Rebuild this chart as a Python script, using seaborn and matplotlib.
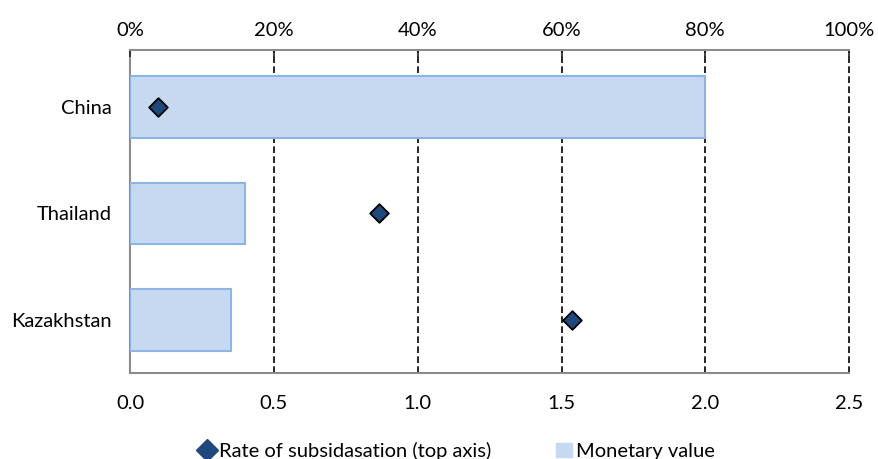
import pandas as pd
import matplotlib
matplotlib.use("Agg")
import matplotlib.pyplot as plt
import seaborn as sns
from matplotlib.lines import Line2D
from matplotlib.patches import Patch

# data
countries = ["China", "Thailand", "Kazakhstan"]
monetary_value = [2.0, 0.40, 0.35]
subsidy_rate = [3.9, 34.6, 61.5]   # percent, top axis
bottom_ticks = [0.0, 0.5, 1.0, 1.5, 2.0, 2.5]
top_ticks = [0, 20, 40, 60, 80, 100]

df = pd.DataFrame({"country": countries, "value": monetary_value, "rate": subsidy_rate})

sns.set_style("white")
plt.rcParams["font.family"] = ["Lato", "DejaVu Sans"]
plt.rcParams["text.color"] = "black"
plt.rcParams["xtick.color"] = "black"
plt.rcParams["ytick.color"] = "black"

fs = 14.5

fig = plt.figure(figsize=(8.79, 4.59), dpi=100)
ax = fig.add_axes([0.148, 0.187, 0.818, 0.704])

bar_fill = "#c6d9f1"
bar_edge = "#8db4e2"
sns.barplot(data=df, x="value", y="country", orient="h", color=bar_fill,
            saturation=1, edgecolor=bar_edge, linewidth=1.5, width=0.58,
            ax=ax, zorder=3)

ylim = (2.5, -0.535)
ax.set_xlim(0, 2.5)
ax.set_ylim(*ylim)
ax.set_xticks(bottom_ticks)
ax.set_xticklabels([f"{t:.1f}" for t in bottom_ticks])
ax.set_xlabel("")
ax.set_ylabel("")
ax.tick_params(axis="x", length=0, pad=16, labelsize=fs)
ax.tick_params(axis="y", length=0, pad=13, labelsize=fs)

for x in bottom_ticks[1:]:
    ax.axvline(x, color="black", linestyle=(0, (4, 2)), linewidth=1.2,
               zorder=2, clip_on=False)

for side in ["right", "top"]:
    ax.spines[side].set_visible(False)
for side in ["left", "bottom"]:
    ax.spines[side].set_color("#8c8c8c")
    ax.spines[side].set_linewidth(1.5)

# top axis for the rate
ax2 = ax.twiny()
ax2.set_xlim(0, 100)
sns.scatterplot(data=df, x="rate", y="country", marker="D", s=90,
                color="#1f497d", edgecolor="black", linewidth=1.3, ax=ax2, zorder=5)
ax2.set_ylim(*ylim)
ax2.set_xticks(top_ticks)
ax2.set_xticklabels([f"{t}%" for t in top_ticks])
ax2.set_xlabel("")
ax2.set_ylabel("")
ax2.tick_params(axis="x", direction="in", length=5, width=1.2, color="#222222",
                pad=8, labelsize=fs, top=True)
for side in ["right", "bottom", "left"]:
    ax2.spines[side].set_visible(False)
ax2.spines["top"].set_color("#8c8c8c")
ax2.spines["top"].set_linewidth(1.5)

handles = [
    Line2D([], [], marker="D", linestyle="none", markersize=11,
           markerfacecolor="#1f497d", markeredgecolor="#1f497d"),
    Patch(facecolor=bar_fill, edgecolor=bar_fill),
]
fig.legend(handles, ["Rate of subsidasation (top axis)", "Monetary value"],
           loc="lower center", bbox_to_anchor=(0.52, -0.042), ncol=2, frameon=False,
           fontsize=fs, handlelength=0.8, handletextpad=0.2, columnspacing=3.2)

fig.savefig("out.png", dpi=100)
